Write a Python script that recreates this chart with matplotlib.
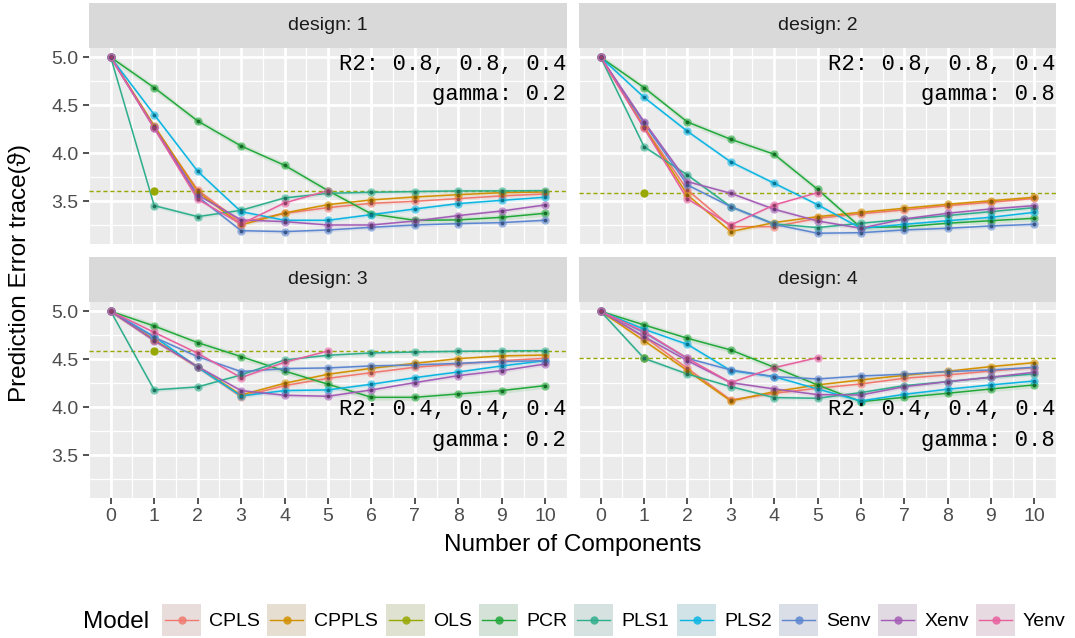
import matplotlib.pyplot as plt
import matplotlib.colors as mcolors
from matplotlib.patches import Rectangle
import numpy as np

plt.rcParams['font.family'] = ['Liberation Sans', 'DejaVu Sans']

models = ["CPLS", "CPPLS", "OLS", "PCR", "PLS1", "PLS2", "Senv", "Xenv", "Yenv"]
colors = {
    "CPLS": "#F0786E", "CPPLS": "#D29000", "OLS": "#97A800",
    "PCR": "#22A83A", "PLS1": "#2EAE8C", "PLS2": "#0AB5E2",
    "Senv": "#5C86D0", "Xenv": "#A25CB5", "Yenv": "#E7609E",
}
components = list(range(11))

# prediction error per number of components (Yenv only fitted up to 5)
design1 = {
    "CPLS":  [5.0, 4.271, 3.618, 3.278, 3.375, 3.434, 3.479, 3.500, 3.528, 3.556, 3.576],
    "CPPLS": [5.0, 4.288, 3.601, 3.253, 3.378, 3.465, 3.514, 3.545, 3.569, 3.590, 3.597],
    "PCR":   [5.0, 4.684, 4.337, 4.076, 3.875, 3.611, 3.368, 3.302, 3.306, 3.333, 3.375],
    "PLS1":  [5.0, 3.455, 3.340, 3.406, 3.535, 3.583, 3.594, 3.601, 3.608, 3.608, 3.611],
    "PLS2":  [5.0, 4.403, 3.813, 3.392, 3.302, 3.302, 3.361, 3.420, 3.476, 3.510, 3.542],
    "Senv":  [5.0, 4.260, 3.549, 3.194, 3.184, 3.201, 3.229, 3.253, 3.267, 3.278, 3.302],
    "Xenv":  [5.0, 4.271, 3.566, 3.306, 3.288, 3.253, 3.253, 3.295, 3.351, 3.399, 3.462],
    "Yenv":  [5.0, 4.260, 3.521, 3.264, 3.483, 3.611],
}
design2 = {
    "CPLS":  [5.0, 4.278, 3.618, 3.236, 3.236, 3.323, 3.370, 3.410, 3.455, 3.490, 3.530],
    "CPPLS": [5.0, 4.271, 3.566, 3.184, 3.278, 3.340, 3.385, 3.427, 3.469, 3.506, 3.542],
    "PCR":   [5.0, 4.684, 4.326, 4.146, 3.990, 3.625, 3.226, 3.235, 3.271, 3.298, 3.323],
    "PLS1":  [5.0, 4.069, 3.774, 3.444, 3.264, 3.226, 3.271, 3.312, 3.351, 3.392, 3.434],
    "PLS2":  [5.0, 4.583, 4.229, 3.910, 3.688, 3.465, 3.219, 3.260, 3.298, 3.333, 3.385],
    "Senv":  [5.0, 4.313, 3.670, 3.444, 3.260, 3.167, 3.173, 3.201, 3.219, 3.243, 3.260],
    "Xenv":  [5.0, 4.330, 3.705, 3.583, 3.417, 3.295, 3.219, 3.316, 3.375, 3.420, 3.455],
    "Yenv":  [5.0, 4.260, 3.524, 3.253, 3.462, 3.590],
}
design3 = {
    "CPLS":  [5.0, 4.701, 4.417, 4.111, 4.226, 4.302, 4.361, 4.417, 4.451, 4.486, 4.510],
    "CPPLS": [5.0, 4.701, 4.424, 4.128, 4.250, 4.344, 4.406, 4.458, 4.507, 4.535, 4.545],
    "PCR":   [5.0, 4.847, 4.674, 4.528, 4.378, 4.240, 4.104, 4.104, 4.139, 4.174, 4.226],
    "PLS1":  [5.0, 4.181, 4.212, 4.337, 4.493, 4.542, 4.566, 4.576, 4.583, 4.587, 4.590],
    "PLS2":  [5.0, 4.736, 4.417, 4.118, 4.174, 4.181, 4.240, 4.309, 4.368, 4.431, 4.486],
    "Senv":  [5.0, 4.729, 4.528, 4.372, 4.403, 4.410, 4.431, 4.441, 4.458, 4.476, 4.486],
    "Xenv":  [5.0, 4.694, 4.424, 4.174, 4.125, 4.115, 4.181, 4.257, 4.330, 4.382, 4.451],
    "Yenv":  [5.0, 4.781, 4.563, 4.309, 4.469, 4.587],
}
design4 = {
    "CPLS":  [5.0, 4.736, 4.406, 4.076, 4.146, 4.198, 4.243, 4.302, 4.337, 4.378, 4.413],
    "CPPLS": [5.0, 4.694, 4.382, 4.066, 4.163, 4.233, 4.285, 4.333, 4.375, 4.424, 4.465],
    "PCR":   [5.0, 4.858, 4.719, 4.597, 4.417, 4.233, 4.059, 4.104, 4.146, 4.191, 4.233],
    "PLS1":  [5.0, 4.510, 4.347, 4.215, 4.101, 4.094, 4.153, 4.226, 4.267, 4.313, 4.347],
    "PLS2":  [5.0, 4.813, 4.656, 4.382, 4.319, 4.191, 4.066, 4.135, 4.188, 4.233, 4.274],
    "Senv":  [5.0, 4.778, 4.510, 4.389, 4.319, 4.295, 4.326, 4.344, 4.372, 4.389, 4.417],
    "Xenv":  [5.0, 4.736, 4.486, 4.257, 4.191, 4.132, 4.128, 4.215, 4.267, 4.313, 4.365],
    "Yenv":  [5.0, 4.788, 4.510, 4.257, 4.413, 4.517],
}
designs = [design1, design2, design3, design4]
ols_error = [3.611, 3.590, 4.583, 4.510]

# half-width of the uncertainty band drawn around each curve
band = {"CPLS": 0.02, "CPPLS": 0.02, "PCR": 0.03, "PLS1": 0.02,
        "PLS2": 0.02, "Senv": 0.02, "Xenv": 0.02, "Yenv": 0.015}

r2_labels = ["R2: 0.8, 0.8, 0.4", "R2: 0.8, 0.8, 0.4", "R2: 0.4, 0.4, 0.4", "R2: 0.4, 0.4, 0.4"]
gamma_labels = ["gamma: 0.2", "gamma: 0.8", "gamma: 0.2", "gamma: 0.8"]

W, H = 1075, 638
fig = plt.figure(figsize=(W / 100, H / 100), dpi=100)

panel_boxes = [(89, 48, 567, 244), (579, 48, 1056, 244),
               (89, 302, 567, 498), (579, 302, 1056, 498)]
strip_h = 45


def darker(c, f=0.65):
    r, g, b = mcolors.to_rgb(c)
    return (r * f, g * f, b * f)


for i, (x0, y0, x1, y1) in enumerate(panel_boxes):
    ax = fig.add_axes([x0 / W, 1 - y1 / H, (x1 - x0) / W, (y1 - y0) / H])
    ax.set_facecolor('#EBEBEB')
    for s in ax.spines.values():
        s.set_visible(False)
    ax.set_xlim(-0.5, 10.5)
    ax.set_ylim(3.055, 5.097)
    ax.set_xticks(components)
    ax.set_xticks(np.arange(-0.5, 10.6, 1.0), minor=True)
    ax.set_yticks([3.5, 4.0, 4.5, 5.0])
    ax.set_yticks([3.25, 3.75, 4.25, 4.75], minor=True)
    ax.grid(which='major', color='white', lw=2.0)
    ax.grid(which='minor', color='white', lw=0.9)
    ax.set_axisbelow(True)
    ax.tick_params(which='minor', length=0)
    ax.tick_params(which='major', length=4.4, width=1.2, color='#333333',
                   labelsize=14, labelcolor='#4D4D4D', pad=3)
    ax.set_yticklabels(['3.5', '4.0', '4.5', '5.0'])
    if i % 2 == 1:
        ax.tick_params(axis='y', left=False, labelleft=False)
    if i < 2:
        ax.tick_params(axis='x', bottom=False, labelbottom=False)

    data = designs[i]
    ax.axhline(ols_error[i], color=colors["OLS"], lw=1.0, ls=(0, (3, 2)), zorder=2)
    for m in models:
        if m == "OLS":
            ax.scatter([1], [ols_error[i]], s=36, color=colors[m], zorder=4, lw=0)
            continue
        y = np.array(data[m])
        x = components[:len(y)]
        ax.fill_between(x, y - band[m], y + band[m], color=colors[m], alpha=0.12, lw=0, zorder=2)
        ax.plot(x, y, color=colors[m], lw=1.1, zorder=3)
        ax.scatter(x, y, s=36, color=colors[m], alpha=0.6, lw=0, zorder=4)
        ax.scatter(x, y, s=8, color=darker(colors[m]), lw=0, zorder=5)

    if i < 2:
        ys = (4.92, 4.61)
    else:
        ys = (3.98, 3.65)
    ax.text(10.48, ys[0], r2_labels[i], ha='right', va='center',
            family='Liberation Mono', fontsize=16, color='black', zorder=6)
    ax.text(10.48, ys[1], gamma_labels[i], ha='right', va='center',
            family='Liberation Mono', fontsize=16, color='black', zorder=6)

    # facet strip
    sax = fig.add_axes([x0 / W, 1 - y0 / H, (x1 - x0) / W, strip_h / H])
    sax.set_facecolor('#D9D9D9')
    sax.set_xticks([])
    sax.set_yticks([])
    for s in sax.spines.values():
        s.set_visible(False)
    sax.text(0.5, 0.5, f"design: {i + 1}", ha='center', va='center',
             fontsize=14, color='#1A1A1A', transform=sax.transAxes)

fig.text(20 / W, 1 - 273 / H, "Prediction Error trace(\u03d1)", rotation=90,
         ha='center', va='center', fontsize=17.5)
fig.text(572.5 / W, 1 - 545 / H, "Number of Components", ha='center', va='center',
         fontsize=17.5)

# legend drawn in pixel space along the bottom
lax = fig.add_axes([0, 0, 1, 1])
lax.set_xlim(0, W)
lax.set_ylim(H, 0)
lax.axis('off')
lax.text(83, 622, "Model", ha='left', va='center', fontsize=17.5)
key_left = [162, 267, 386, 479, 574, 677, 779, 878, 976]
key_w, key_y0, key_y1 = 39, 604, 636
for m, kx in zip(models, key_left):
    c = colors[m]
    bg = np.array(mcolors.to_rgb('#E8E8E8'))
    tint = 0.9 * bg + 0.1 * np.array(mcolors.to_rgb(c))
    lax.add_patch(Rectangle((kx, key_y0), key_w, key_y1 - key_y0, facecolor=tint, lw=0))
    yc = (key_y0 + key_y1) / 2
    lax.plot([kx + 3, kx + key_w - 3], [yc, yc], color=c, lw=1.0)
    lax.scatter([kx + key_w / 2], [yc], s=36, color=c, lw=0, alpha=0.85)
    lax.text(kx + key_w + 8, yc + 1, m, ha='left', va='center', fontsize=14)

fig.savefig('out.png', dpi=100)
